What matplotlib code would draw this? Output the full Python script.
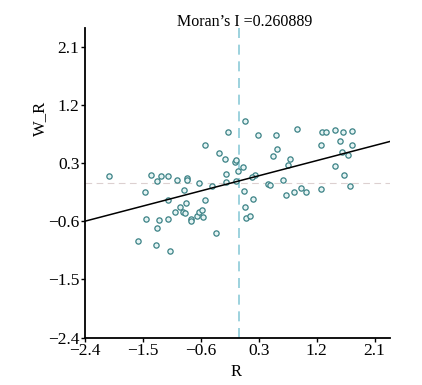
import matplotlib
matplotlib.use("Agg")
import matplotlib.pyplot as plt
import numpy as np

plt.rcParams['font.family'] = ['Liberation Serif', 'DejaVu Serif']

moran_i = 0.260889
intercept = 0.03

r_vals = [-2.020, -1.463, -1.375, -1.216, -1.278, -1.117, -0.969, -0.809, -0.813, -0.634,
          -0.856, -1.109, -0.828, -0.541, -0.434, -0.216, -0.216, -0.028, 0.061, -0.075,
          -0.048, -0.220, -0.313, -0.531, -0.177, 0.089, 0.288, 0.242, 0.191, 0.066,
          0.211, 0.089, 0.105, 0.163, -0.916, -1.005, -0.875, -0.853, -0.759, -0.747,
          -0.656, -0.630, -0.575, -0.559, -1.458, -1.255, -1.114, -1.278, -1.578, -1.294,
          -1.083, -0.361, 0.563, 0.897, 1.277, 1.344, 1.488, 1.617, 1.745, 1.269,
          1.558, 1.753, 0.578, 0.516, 1.592, 1.691, 0.781, 0.750, 1.491, 1.628,
          1.711, 1.272, 1.034, 0.961, 0.844, 0.727, 0.670, 0.448, 0.475, -0.052]
wr_vals = [0.102, -0.143, 0.113, 0.110, 0.033, 0.106, 0.040, 0.079, 0.040, -0.006,
           -0.120, -0.264, -0.311, -0.275, -0.047, 0.008, 0.140, 0.175, 0.250, 0.320,
           0.349, 0.370, 0.467, 0.584, 0.784, 0.963, 0.742, 0.121, 0.095, -0.123,
           -0.255, -0.373, -0.543, -0.512, -0.379, -0.446, -0.450, -0.472, -0.562, -0.589,
           -0.512, -0.453, -0.430, -0.534, -0.567, -0.579, -0.565, -0.702, -0.911, -0.961,
           -1.059, -0.775, 0.734, 0.828, 0.781, 0.781, 0.817, 0.781, 0.801, 0.592,
           0.649, 0.584, 0.517, 0.408, 0.470, 0.435, 0.365, 0.269, 0.258, 0.118,
           -0.050, -0.099, -0.143, -0.081, -0.143, -0.193, 0.043, -0.026, -0.037, 0.020]

ticks = [-2.4, -1.5, -0.6, 0.3, 1.2, 2.1]
xlim = (-2.4, 2.34)
ylim = (-2.4, 2.4)

fig = plt.figure(figsize=(4.22, 3.85), dpi=100)
ax = fig.add_axes([85/422, 1-337.5/385, (390-85)/422, (337.5-28)/385])

ax.axvline(0, color='#8ccbd8', lw=1.2, ls=(0, (6, 4)), zorder=1)
ax.axhline(0, color='#dcd0d0', lw=0.8, ls=(0, (6, 4)), zorder=1)

ax.plot(r_vals, wr_vals, 'o', ms=3.8, mfc='#e6f4f4', mec='#3c8286', mew=0.9, zorder=3)

xs = np.array(xlim)
ax.plot(xs, moran_i * xs + intercept, color='black', lw=1.1, zorder=4)

ax.set_xlim(*xlim)
ax.set_ylim(*ylim)
ax.set_xticks(ticks)
ax.set_yticks(ticks)
ax.set_xticklabels([f"{t:.1f}".replace('-', '\u2212') for t in ticks])
ax.set_yticklabels([f"{t:.1f}".replace('-', '\u2212') for t in ticks])
ax.tick_params(direction='out', length=3, width=1, labelsize=12.5, pad=1)

for s in ['top', 'right']:
    ax.spines[s].set_visible(False)
for s in ['left', 'bottom']:
    ax.spines[s].set_linewidth(1.3)
    ax.spines[s].set_color('black')

fig.text(245/422, 1-22/385, "Moran\u2019s I =0.260889", ha='center', va='center', fontsize=11.5)
fig.text(40/422, 1-118/385, "W_R", ha='center', va='center', rotation=90, fontsize=12)
fig.text(236/422, 1-372/385, "R", ha='center', va='center', fontsize=12)

fig.savefig("out.png", dpi=100)
